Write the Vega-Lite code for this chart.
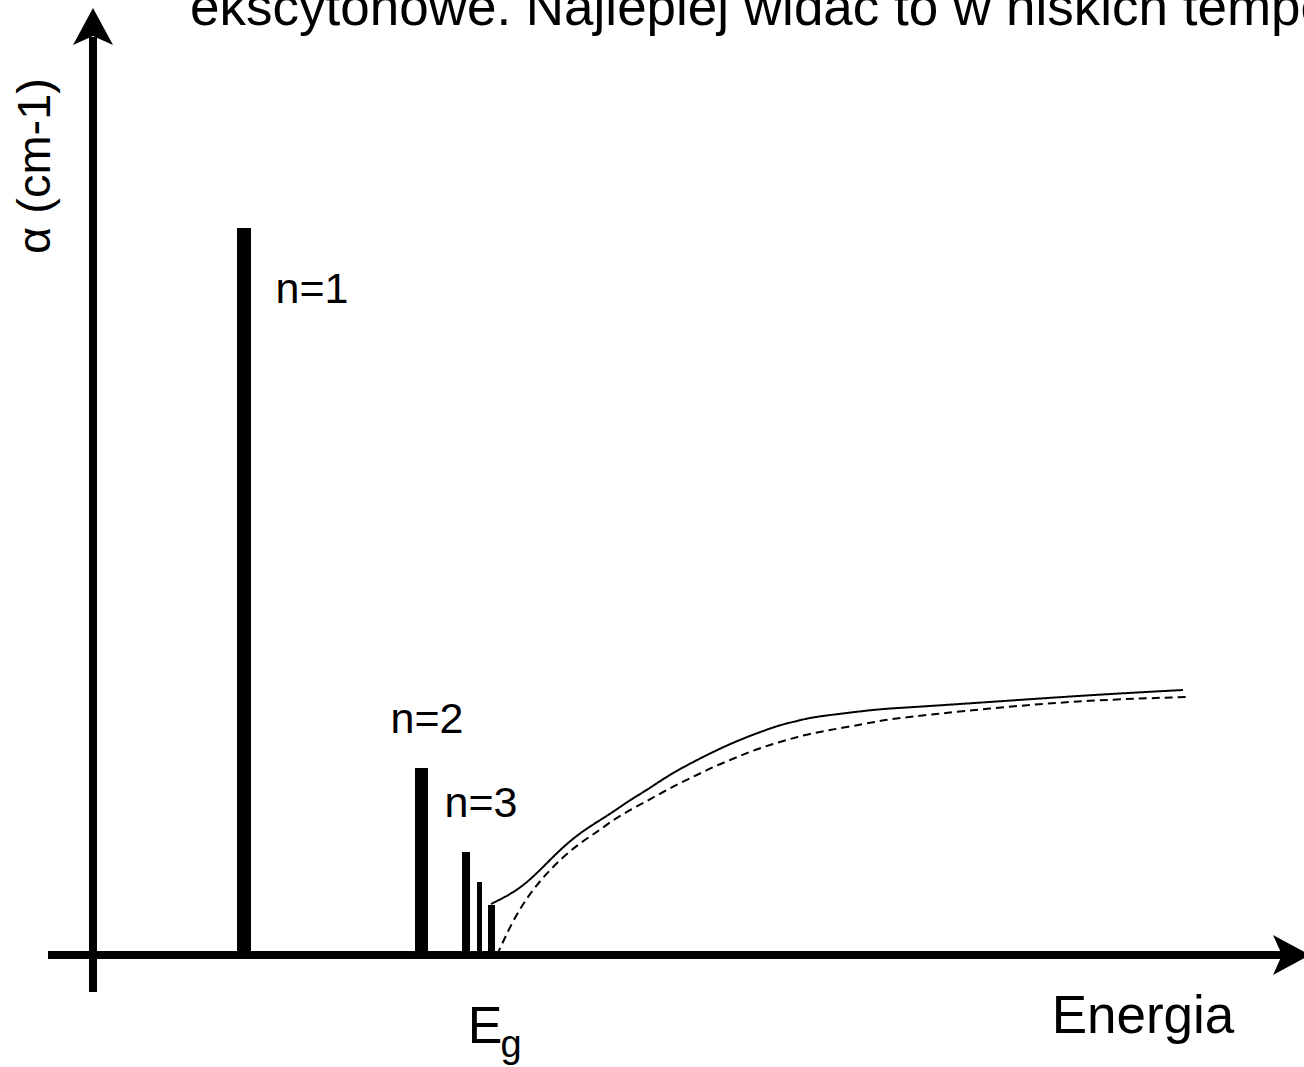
{
  "$schema": "https://vega.github.io/schema/vega-lite/v6.json",
  "width": 1304,
  "height": 1067,
  "autosize": {"type": "none"},
  "padding": 0,
  "background": "white",
  "config": {"view": {"stroke": null}, "text": {"font": "Liberation Sans", "color": "black"}},
  "datasets": {
    "axes": [
      {"e": 48, "e2": 1283, "a": 0, "a2": 0},
      {"e": 93, "e2": 93, "a": -37, "a2": 918}
    ],
    "arrows": [
      {"dir": "up", "e": 93, "a": 927},
      {"dir": "right", "e": 1290, "a": 0}
    ],
    "bars": [
      {"level": "n=1", "e": 237, "e2": 251, "a": 727},
      {"level": "n=2", "e": 415, "e2": 428, "a": 187},
      {"level": "n=3", "e": 462, "e2": 470, "a": 103},
      {"level": "n=4", "e": 477, "e2": 482, "a": 73},
      {"level": "n=5", "e": 488, "e2": 495, "a": 50}
    ],
    "curves": [
      {"curve": "z ekscytonami", "e": 491, "a": 51},
      {"curve": "z ekscytonami", "e": 513, "a": 62},
      {"curve": "z ekscytonami", "e": 530, "a": 75},
      {"curve": "z ekscytonami", "e": 547, "a": 92},
      {"curve": "z ekscytonami", "e": 563, "a": 108},
      {"curve": "z ekscytonami", "e": 580, "a": 122},
      {"curve": "z ekscytonami", "e": 597, "a": 133},
      {"curve": "z ekscytonami", "e": 613, "a": 143},
      {"curve": "z ekscytonami", "e": 630, "a": 155},
      {"curve": "z ekscytonami", "e": 647, "a": 165},
      {"curve": "z ekscytonami", "e": 663, "a": 176},
      {"curve": "z ekscytonami", "e": 680, "a": 186},
      {"curve": "z ekscytonami", "e": 697, "a": 195},
      {"curve": "z ekscytonami", "e": 713, "a": 203},
      {"curve": "z ekscytonami", "e": 730, "a": 211},
      {"curve": "z ekscytonami", "e": 747, "a": 218},
      {"curve": "z ekscytonami", "e": 763, "a": 224},
      {"curve": "z ekscytonami", "e": 780, "a": 230},
      {"curve": "z ekscytonami", "e": 797, "a": 234},
      {"curve": "z ekscytonami", "e": 813, "a": 238},
      {"curve": "z ekscytonami", "e": 847, "a": 242},
      {"curve": "z ekscytonami", "e": 880, "a": 246},
      {"curve": "z ekscytonami", "e": 900, "a": 247},
      {"curve": "z ekscytonami", "e": 990, "a": 253},
      {"curve": "z ekscytonami", "e": 1090, "a": 260},
      {"curve": "z ekscytonami", "e": 1183, "a": 265},
      {"curve": "bez ekscytonów", "e": 497, "a": 0},
      {"curve": "bez ekscytonów", "e": 513, "a": 35},
      {"curve": "bez ekscytonów", "e": 530, "a": 62},
      {"curve": "bez ekscytonów", "e": 547, "a": 82},
      {"curve": "bez ekscytonów", "e": 563, "a": 98},
      {"curve": "bez ekscytonów", "e": 580, "a": 112},
      {"curve": "bez ekscytonów", "e": 597, "a": 123},
      {"curve": "bez ekscytonów", "e": 613, "a": 135},
      {"curve": "bez ekscytonów", "e": 630, "a": 145},
      {"curve": "bez ekscytonów", "e": 647, "a": 154},
      {"curve": "bez ekscytonów", "e": 663, "a": 163},
      {"curve": "bez ekscytonów", "e": 680, "a": 172},
      {"curve": "bez ekscytonów", "e": 697, "a": 180},
      {"curve": "bez ekscytonów", "e": 713, "a": 188},
      {"curve": "bez ekscytonów", "e": 730, "a": 195},
      {"curve": "bez ekscytonów", "e": 747, "a": 202},
      {"curve": "bez ekscytonów", "e": 763, "a": 208},
      {"curve": "bez ekscytonów", "e": 780, "a": 213},
      {"curve": "bez ekscytonów", "e": 797, "a": 218},
      {"curve": "bez ekscytonów", "e": 813, "a": 222},
      {"curve": "bez ekscytonów", "e": 847, "a": 228},
      {"curve": "bez ekscytonów", "e": 880, "a": 234},
      {"curve": "bez ekscytonów", "e": 890, "a": 236},
      {"curve": "bez ekscytonów", "e": 990, "a": 247},
      {"curve": "bez ekscytonów", "e": 1090, "a": 255},
      {"curve": "bez ekscytonów", "e": 1188, "a": 258}
    ]
  },
  "encoding": {
    "x": {"field": "e", "type": "quantitative", "axis": null, "scale": {"domain": [0, 1304], "nice": false, "zero": false}},
    "y": {"field": "a", "type": "quantitative", "axis": null, "scale": {"domain": [-112, 955], "nice": false, "zero": false}}
  },
  "layer": [
    {
      "data": {"name": "axes"},
      "mark": {"type": "rule", "strokeWidth": 8, "color": "black", "strokeCap": "butt"},
      "encoding": {"x2": {"field": "e2"}, "y2": {"field": "a2"}}
    },
    {
      "data": {"name": "arrows"},
      "mark": {"type": "point", "filled": true, "color": "black", "opacity": 1, "size": 1600, "strokeWidth": 0},
      "encoding": {
        "shape": {"field": "dir", "type": "nominal", "legend": null,
          "scale": {"domain": ["up", "right"], "range": ["M0,-1L1,0.85L0,0.4L-1,0.85Z", "M1,0L-0.85,-1L-0.4,0L-0.85,1Z"]}}
      }
    },
    {
      "data": {"name": "bars"},
      "mark": {"type": "bar", "color": "black"},
      "encoding": {"x2": {"field": "e2"}, "y2": {"datum": 0}}
    },
    {
      "data": {"name": "curves"},
      "mark": {"type": "line", "color": "black", "strokeWidth": 2, "interpolate": "basis"},
      "encoding": {
        "detail": {"field": "curve", "type": "nominal"},
        "strokeDash": {"field": "curve", "type": "nominal", "legend": null,
          "scale": {"domain": ["z ekscytonami", "bez ekscytonów"], "range": [[1, 0], [8, 5]]}}
      }
    },
    {
      "data": {"values": [
        {"t": "n=1", "e": 312, "a": 652},
        {"t": "n=2", "e": 427, "a": 222},
        {"t": "n=3", "e": 481, "a": 138}
      ]},
      "mark": {"type": "text", "fontSize": 43, "align": "center", "baseline": "alphabetic"},
      "encoding": {"text": {"field": "t"}}
    },
    {
      "data": {"values": [{"t": "Energia", "e": 1143, "a": -78}]},
      "mark": {"type": "text", "fontSize": 53, "align": "center", "baseline": "alphabetic"},
      "encoding": {"text": {"field": "t"}}
    },
    {
      "data": {"values": [{"t": "E", "e": 485, "a": -88}]},
      "mark": {"type": "text", "fontSize": 52, "align": "center", "baseline": "alphabetic"},
      "encoding": {"text": {"field": "t"}}
    },
    {
      "data": {"values": [{"t": "g", "e": 511, "a": -102}]},
      "mark": {"type": "text", "fontSize": 38, "align": "center", "baseline": "alphabetic"},
      "encoding": {"text": {"field": "t"}}
    },
    {
      "data": {"values": [{"t": "α (cm-1)", "e": 50, "a": 789}]},
      "mark": {"type": "text", "fontSize": 47, "angle": 270, "align": "center", "baseline": "alphabetic"},
      "encoding": {"text": {"field": "t"}}
    },
    {
      "data": {"values": [{"t": "ekscytonowe. Najlepiej widać to w niskich temperaturach.", "e": 190, "a": 930}]},
      "mark": {"type": "text", "fontSize": 53, "align": "left", "baseline": "alphabetic", "clip": true},
      "encoding": {"text": {"field": "t"}}
    }
  ]
}
